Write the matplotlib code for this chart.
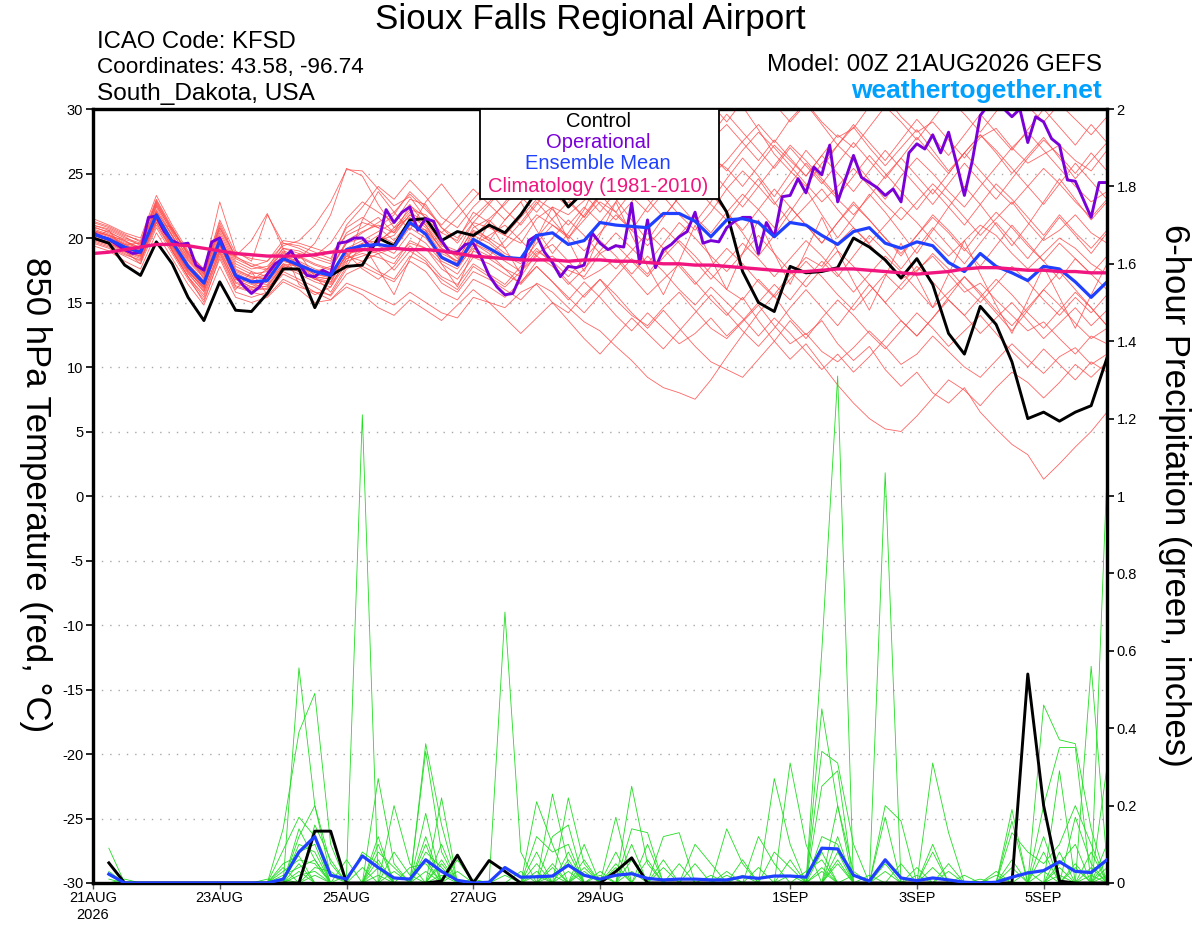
import numpy as np
import matplotlib
matplotlib.use("Agg")
import matplotlib.pyplot as plt
from matplotlib.patches import Rectangle

plt.rcParams['font.family'] = ['Liberation Sans', 'DejaVu Sans']

# ---------------- DATA ----------------
date_labels = ["21AUG\n2026", "23AUG", "25AUG", "27AUG", "29AUG", "1SEP", "3SEP", "5SEP"]
date_hours = [0, 48, 96, 144, 192, 264, 312, 360]

control_temp = [
    20.0, 19.6, 17.9, 17.1, 19.7, 18.0, 15.4, 13.6, 16.6, 14.4, 14.3, 15.7, 17.6,
    17.6, 14.6, 17.1, 17.8, 17.9, 20.0, 19.4, 21.4, 21.5, 19.8, 20.5, 20.2, 21.0,
    20.4, 21.8, 23.6, 24.2, 22.4, 23.6, 24.5, 25.0, 24.8, 25.5, 25.0, 24.5, 24.8,
    24.0, 22.0, 17.4, 15.0, 14.3, 17.8, 17.3, 17.4, 17.7, 20.0, 19.3, 18.3, 16.9,
    18.4, 16.4, 12.6, 11.0, 14.7, 13.3, 10.4, 6.0, 6.5, 5.8, 6.5, 7.0, 10.7]

mean_temp = [
    20.3, 19.9, 19.3, 18.9, 21.8, 19.7, 17.8, 16.5, 19.8, 17.1, 16.6, 16.7, 18.4,
    17.9, 17.4, 17.1, 19.1, 19.4, 19.5, 19.3, 21.2, 20.3, 18.5, 17.9, 19.9, 19.2,
    18.5, 18.4, 20.2, 20.4, 19.5, 19.8, 21.2, 21.0, 20.9, 20.8, 21.9, 21.9, 21.3,
    20.1, 21.4, 21.5, 21.2, 20.1, 21.2, 21.0, 20.2, 19.5, 20.5, 20.8, 19.6, 19.2,
    19.7, 19.4, 18.1, 17.4, 18.8, 17.8, 17.3, 16.7, 17.8, 17.6, 16.6, 15.4, 16.6]

clim_temp = [
    18.8, 18.9, 19.1, 19.3, 19.5, 19.5, 19.4, 19.2, 19.0, 18.8, 18.7, 18.6, 18.6,
    18.6, 18.7, 18.9, 19.0, 19.1, 19.1, 19.2, 19.1, 19.1, 19.0, 18.8, 18.6, 18.5,
    18.4, 18.3, 18.3, 18.3, 18.2, 18.3, 18.3, 18.2, 18.2, 18.1, 18.0, 18.0, 17.9,
    17.9, 17.8, 17.7, 17.6, 17.5, 17.4, 17.4, 17.5, 17.6, 17.6, 17.5, 17.4, 17.3,
    17.2, 17.3, 17.4, 17.6, 17.7, 17.7, 17.6, 17.5, 17.5, 17.4, 17.4, 17.3, 17.3]

# operational run, 3-hourly
oper_temp = [
    20.4, 20.1, 19.9, 19.5, 19.1, 18.8, 18.9, 21.6,
    21.7, 20.5, 19.8, 19.5, 19.6, 17.9, 17.5, 19.7,
    20.0, 18.5, 17.1, 16.3, 15.7, 16.2, 17.2, 18.0,
    18.4, 19.0, 18.0, 17.1, 17.0, 17.5, 17.2, 19.6,
    19.7, 20.0, 20.0, 19.3, 19.6, 22.2, 21.2, 22.0,
    22.4, 20.6, 21.5, 21.3, 19.8, 18.9, 18.9, 19.5,
    19.6, 18.5, 17.1, 16.2, 15.6, 15.7, 17.1, 19.8,
    20.2, 18.9, 18.1, 17.0, 17.8, 17.7, 17.9, 20.4,
    19.6, 19.1, 19.4, 19.3, 22.7, 18.0, 21.4, 17.7,
    19.1, 19.5, 20.1, 20.5, 22.0, 19.6, 19.8, 19.7,
    20.8, 21.3, 21.6, 21.6, 18.8, 21.2, 20.1, 23.2,
    23.3, 24.6, 23.5, 25.5, 24.9, 27.2, 22.8, 24.6,
    26.4, 24.7, 24.3, 23.9, 23.3, 23.8, 22.8, 26.6,
    27.3, 26.9, 28.0, 26.6, 28.2, 25.8, 23.3, 26.0,
    29.5, 30.3, 30.6, 30.0, 29.4, 30.0, 27.4, 29.4,
    29.0, 27.7, 27.2, 24.5, 24.4, 23.0, 21.6, 24.3,
    24.3]

# ensemble members 850 hPa temperature
mem_r01 = [20.8, 20.5, 19.8, 19.2, 22.6, 20.4, 18.5, 17.2, 20.6, 18.0, 17.4, 17.0, 18.8,
           18.5, 17.9, 17.5, 19.8, 20.5, 21.0, 20.4, 22.5, 21.6, 19.5, 19.0, 21.2, 20.8,
           20.2, 19.6, 21.5, 22.4, 21.8, 22.9, 24.5, 25.1, 24.0, 25.8, 27.2, 26.5, 25.4,
           24.8, 26.0, 27.5, 28.8, 27.4, 29.2, 30.5, 29.0, 27.8, 28.5, 30.2, 31.0, 29.4,
           28.2, 29.0, 27.6, 26.2, 27.8, 28.5, 27.0, 25.8, 26.5, 27.2, 26.0, 25.2, 26.8]
mem_r02 = [20.1, 19.7, 19.0, 18.5, 21.4, 19.2, 17.3, 15.8, 19.2, 16.5, 16.0, 16.3, 17.8,
           17.2, 16.6, 16.2, 18.4, 18.8, 18.5, 18.0, 19.8, 19.2, 17.6, 16.8, 18.5, 18.0,
           17.2, 16.5, 18.2, 18.6, 17.5, 17.0, 18.8, 19.5, 18.2, 17.0, 18.5, 19.8, 18.6,
           17.2, 16.0, 15.2, 16.8, 15.5, 13.8, 12.5, 13.6, 11.8, 10.5, 11.6, 9.8, 8.5,
           9.6, 8.0, 7.2, 8.4, 6.5, 5.2, 4.0, 3.2, 1.3, 2.5, 3.8, 5.0, 6.5]
mem_r03 = [20.6, 20.2, 19.6, 19.2, 22.2, 20.1, 18.2, 16.9, 20.2, 17.6, 17.0, 16.8, 18.6,
           18.1, 17.4, 17.0, 19.0, 19.2, 18.8, 17.5, 19.0, 18.2, 16.5, 15.8, 17.4, 16.8,
           16.0, 15.2, 16.5, 15.8, 14.6, 13.5, 12.8, 11.6, 10.5, 9.2, 8.4, 8.0, 7.5,
           9.0, 10.8, 12.5, 14.2, 15.6, 17.2, 18.5, 17.8, 19.6, 20.8, 19.5, 18.2, 16.8,
           17.5, 18.6, 17.2, 15.8, 16.5, 15.2, 14.0, 12.8, 13.5, 12.2, 11.0, 12.4, 11.8]
mem_r04 = [21.2, 20.8, 20.2, 19.8, 23.0, 20.8, 18.6, 17.2, 21.0, 18.4, 17.8, 18.2, 19.4,
           19.8, 21.0, 22.8, 25.3, 25.2, 23.8, 22.5, 23.2, 21.5, 20.4, 19.8, 22.0, 21.2,
           22.8, 24.2, 23.5, 25.0, 26.4, 25.2, 27.0, 28.2, 26.8, 25.0, 24.2, 26.0, 27.8,
           29.5, 31.0, 30.2, 28.4, 26.5, 25.2, 24.0, 25.8, 27.2, 26.0, 24.5, 23.0, 24.8,
           26.2, 25.0, 23.6, 22.4, 24.0, 25.5, 27.0, 28.2, 26.8, 25.4, 24.0, 22.8, 23.6]
mem_r05 = [19.8, 19.4, 18.8, 18.2, 21.0, 19.0, 17.0, 15.4, 18.8, 16.2, 15.8, 15.5, 16.8,
           16.2, 15.8, 15.2, 16.5, 16.0, 15.4, 14.8, 15.8, 15.0, 14.2, 13.8, 15.4, 15.0,
           14.6, 15.8, 16.4, 15.0, 14.2, 15.6, 16.8, 15.2, 14.0, 13.2, 14.6, 15.8, 14.4,
           13.0, 12.2, 13.5, 14.8, 13.2, 11.8, 12.6, 11.2, 10.4, 11.5, 12.8, 11.6, 10.2,
           11.0, 12.4, 11.2, 10.0, 9.2, 10.5, 11.8, 10.6, 9.5, 10.8, 11.5, 10.2, 11.0]
mem_r06 = [20.4, 20.0, 19.4, 19.0, 21.8, 19.6, 17.6, 16.4, 19.6, 17.0, 16.8, 17.2, 18.4,
           17.6, 17.0, 16.8, 19.2, 19.8, 20.5, 21.2, 22.6, 21.0, 19.0, 18.2, 20.5, 19.8,
           18.8, 18.2, 20.0, 21.5, 22.8, 21.6, 23.4, 24.8, 23.2, 22.0, 23.5, 25.2, 24.0,
           22.6, 21.4, 23.0, 24.6, 22.8, 21.2, 22.5, 23.8, 22.2, 20.8, 19.6, 21.0, 22.4,
           21.2, 19.8, 18.6, 19.8, 21.0, 20.2, 18.8, 17.6, 18.8, 20.0, 19.2, 18.0, 17.2]
mem_r07 = [20.2, 19.9, 19.2, 18.8, 21.6, 19.5, 17.5, 16.0, 19.8, 17.2, 16.5, 16.4, 18.0,
           17.8, 17.2, 17.0, 18.6, 19.4, 20.2, 19.6, 21.0, 20.6, 19.2, 18.6, 20.8, 21.5,
           22.6, 24.0, 25.5, 24.2, 26.0, 27.4, 29.0, 30.5, 29.2, 27.8, 28.6, 29.8, 28.0,
           26.4, 25.2, 26.8, 28.2, 27.0, 25.6, 24.2, 22.8, 24.0, 25.4, 24.0, 22.6, 21.4,
           22.8, 24.2, 23.0, 21.6, 20.2, 21.5, 22.8, 21.2, 19.8, 20.6, 21.8, 20.4, 19.6]
mem_r08 = [20.0, 19.6, 19.0, 18.6, 21.4, 19.4, 17.6, 16.2, 19.4, 16.8, 16.2, 16.0, 17.8,
           17.4, 16.8, 16.4, 18.2, 18.6, 19.0, 18.4, 19.6, 19.2, 18.0, 17.2, 19.0, 18.4,
           17.6, 17.0, 18.8, 19.5, 18.2, 16.8, 17.5, 18.4, 17.0, 15.6, 16.8, 18.0, 16.6,
           15.2, 14.0, 15.4, 13.6, 12.0, 10.6, 11.8, 10.2, 8.6, 7.2, 6.0, 5.2, 5.0,
           6.2, 7.6, 9.0, 8.2, 7.0, 8.4, 9.6, 8.8, 7.6, 8.8, 10.2, 9.2, 10.4]
mem_r09 = [21.0, 20.6, 20.0, 19.6, 22.8, 20.6, 18.8, 17.6, 20.8, 18.6, 17.8, 17.5, 19.2,
           19.0, 18.4, 18.0, 20.4, 21.2, 20.8, 21.8, 23.6, 22.4, 20.8, 20.0, 21.6, 22.8,
           24.0, 23.2, 22.0, 23.5, 22.4, 24.0, 22.6, 21.4, 22.8, 24.6, 23.2, 21.8, 20.6,
           22.0, 23.8, 25.2, 24.0, 22.6, 24.2, 25.8, 24.4, 23.0, 21.8, 23.2, 24.8, 26.2,
           24.8, 23.4, 25.0, 26.6, 25.2, 23.8, 22.6, 24.0, 25.4, 24.2, 22.8, 21.6, 23.0]
mem_r10 = [19.6, 19.2, 18.6, 18.0, 20.8, 18.8, 16.8, 15.2, 18.4, 15.8, 15.4, 15.8, 17.2,
           16.6, 15.8, 15.6, 17.6, 18.2, 17.4, 16.8, 18.6, 18.0, 16.8, 16.0, 17.8, 17.0,
           16.2, 17.4, 18.6, 17.8, 16.4, 17.6, 19.0, 20.4, 19.2, 18.0, 19.6, 21.2, 20.0,
           18.6, 17.4, 18.8, 20.2, 18.8, 17.4, 16.2, 17.6, 19.0, 17.8, 16.4, 15.0, 16.4,
           17.8, 16.6, 15.2, 14.0, 15.4, 16.8, 15.6, 14.2, 13.0, 14.4, 15.8, 14.6, 13.2]
mem_r11 = [20.5, 20.1, 19.5, 19.1, 22.0, 19.9, 18.0, 16.7, 20.0, 17.4, 16.9, 17.0, 18.6,
           18.2, 17.6, 17.2, 19.0, 19.6, 19.8, 20.2, 21.8, 21.0, 19.4, 18.8, 20.6, 20.0,
           19.2, 20.4, 21.8, 21.0, 20.0, 21.4, 22.8, 22.0, 23.6, 25.0, 24.2, 23.0, 24.6,
           26.2, 25.4, 24.0, 25.6, 27.2, 26.0, 24.8, 26.4, 28.0, 27.0, 28.6, 30.2, 29.0,
           27.6, 29.2, 30.8, 29.6, 28.2, 29.8, 31.0, 30.2, 29.0, 30.4, 29.2, 28.0, 29.4]
mem_r12 = [19.9, 19.5, 18.9, 18.4, 21.2, 19.1, 17.2, 15.9, 19.0, 16.6, 16.1, 16.6, 18.0,
           17.4, 16.9, 16.6, 18.8, 19.0, 19.8, 20.6, 22.0, 21.2, 19.6, 18.4, 20.2, 19.6,
           18.6, 18.0, 19.6, 21.0, 20.2, 19.0, 20.4, 21.8, 20.6, 19.4, 20.8, 19.6, 18.2,
           16.8, 18.2, 19.6, 18.4, 17.0, 18.4, 19.8, 18.6, 17.2, 15.8, 17.2, 18.6, 17.4,
           16.0, 14.6, 15.8, 17.0, 15.8, 14.4, 13.2, 14.6, 16.0, 14.8, 13.4, 12.2, 13.0]
mem_r13 = [20.3, 19.8, 19.1, 18.7, 21.5, 19.3, 17.4, 16.1, 19.5, 16.9, 16.4, 16.2, 17.9,
           17.5, 16.8, 16.5, 18.8, 17.6, 16.8, 17.8, 19.4, 18.4, 17.0, 16.4, 18.0, 17.2,
           16.4, 17.8, 19.2, 18.0, 16.6, 15.4, 16.8, 15.6, 14.2, 13.0, 14.4, 13.0, 11.6,
           10.4, 9.8, 9.2, 10.6, 12.0, 13.6, 12.2, 13.8, 15.2, 14.0, 12.6, 11.4, 12.8,
           14.2, 13.0, 11.6, 12.8, 14.0, 12.6, 11.2, 10.0, 11.4, 10.2, 9.0, 10.4, 9.6]
mem_r14 = [21.5, 21.0, 20.4, 20.0, 23.3, 21.0, 19.0, 17.5, 22.8, 19.0, 18.2, 21.8, 19.6,
           19.2, 18.6, 18.2, 21.0, 22.4, 24.0, 23.0, 24.5, 23.2, 21.6, 20.8, 22.4, 23.6,
           22.2, 21.0, 22.6, 24.2, 23.0, 21.6, 23.2, 24.6, 26.0, 24.8, 23.4, 25.0, 26.6,
           25.2, 23.8, 22.4, 24.0, 25.6, 27.2, 26.0, 24.6, 23.2, 24.8, 26.4, 25.0, 23.6,
           22.2, 23.8, 22.4, 21.0, 22.6, 24.2, 23.0, 21.6, 20.2, 21.8, 20.4, 19.2, 20.6]
mem_r15 = [20.0, 19.6, 19.0, 18.6, 21.4, 19.4, 17.4, 16.2, 19.4, 16.8, 16.2, 16.9, 18.2,
           17.8, 17.0, 16.8, 18.4, 19.0, 19.6, 20.8, 22.2, 21.8, 20.4, 21.6, 23.0, 24.4,
           25.6, 26.8, 25.4, 27.0, 28.4, 27.2, 28.8, 30.4, 31.2, 30.0, 31.6, 30.8, 29.4,
           28.0, 29.6, 28.2, 26.8, 25.4, 27.0, 25.6, 24.2, 25.8, 27.4, 26.0, 24.6, 26.2,
           27.8, 26.4, 25.0, 26.6, 28.0, 26.8, 25.4, 24.0, 22.6, 24.2, 25.8, 24.4, 23.0]
mem_r16 = [20.7, 20.3, 19.7, 19.3, 22.4, 20.2, 18.3, 17.0, 20.4, 17.8, 17.2, 17.4, 19.0,
           18.6, 18.0, 17.6, 19.6, 20.0, 19.4, 18.8, 20.4, 19.6, 18.2, 17.6, 19.4, 20.2,
           21.0, 19.8, 18.6, 20.0, 21.4, 20.2, 18.8, 17.6, 19.0, 20.4, 19.2, 17.8, 16.4,
           17.8, 19.2, 18.0, 16.6, 15.4, 16.8, 18.2, 17.0, 15.6, 14.4, 15.8, 17.2, 16.0,
           17.4, 18.8, 17.6, 16.2, 15.0, 16.4, 17.8, 16.6, 15.2, 14.0, 15.4, 14.2, 15.6]
mem_r17 = [19.7, 19.3, 18.7, 18.3, 21.2, 19.0, 17.0, 15.6, 18.9, 16.3, 15.9, 16.1, 17.4,
           16.8, 16.2, 15.5, 17.2, 17.8, 17.2, 16.6, 18.2, 17.4, 15.8, 15.2, 16.8, 16.2,
           15.4, 16.6, 17.8, 16.6, 15.4, 14.2, 15.6, 17.0, 18.4, 17.2, 18.8, 20.2, 21.6,
           20.4, 22.0, 23.4, 22.2, 20.8, 22.4, 21.0, 19.6, 21.2, 22.6, 21.4, 20.0, 18.8,
           20.2, 21.6, 20.4, 19.0, 20.6, 22.0, 20.8, 19.4, 18.2, 19.6, 18.4, 17.2, 18.6]
mem_r18 = [21.0, 20.7, 20.1, 19.4, 22.5, 20.5, 18.4, 17.1, 20.8, 18.2, 17.6, 17.8, 19.2,
           18.8, 18.6, 19.6, 21.5, 22.8, 22.0, 21.2, 23.0, 22.6, 20.8, 19.6, 21.2, 22.6,
           21.4, 22.8, 24.2, 23.0, 24.6, 23.4, 22.0, 23.6, 25.2, 27.0, 25.8, 24.4, 26.0,
           27.6, 28.8, 27.4, 26.0, 27.6, 26.2, 24.8, 26.4, 25.0, 23.6, 25.2, 26.8, 25.4,
           24.0, 22.6, 24.2, 25.8, 24.4, 23.0, 24.6, 26.2, 27.6, 26.4, 25.0, 26.6, 25.2]
mem_r19 = [20.2, 19.8, 19.2, 18.8, 21.6, 19.6, 17.7, 16.3, 19.6, 17.0, 16.6, 16.6, 18.3,
           17.8, 17.2, 16.9, 18.6, 18.2, 18.8, 19.2, 20.8, 20.0, 18.4, 17.8, 19.6, 19.0,
           18.2, 17.4, 19.0, 18.2, 17.0, 18.4, 19.8, 18.6, 17.2, 18.6, 17.4, 16.0, 14.8,
           16.2, 15.0, 13.8, 12.4, 13.8, 12.6, 11.2, 9.8, 11.0, 9.6, 10.8, 12.2, 13.6,
           12.4, 13.8, 15.2, 14.0, 12.6, 13.8, 15.0, 13.6, 12.2, 13.4, 14.6, 13.2, 14.4]
mem_r20 = [20.9, 20.4, 19.9, 19.5, 22.9, 20.7, 18.7, 17.3, 21.2, 18.5, 18.0, 17.6, 19.6,
           19.4, 18.9, 18.4, 20.8, 21.6, 20.8, 19.8, 21.4, 20.6, 18.8, 18.2, 20.0, 21.4,
           20.2, 21.6, 23.0, 22.2, 21.0, 22.4, 21.2, 22.8, 24.4, 23.0, 21.6, 23.2, 24.8,
           23.4, 22.0, 20.6, 22.2, 23.8, 22.4, 21.0, 19.6, 21.2, 22.8, 21.4, 20.0, 18.6,
           20.2, 21.8, 20.6, 19.2, 17.8, 19.4, 21.0, 19.6, 18.2, 16.8, 18.4, 17.2, 16.0]
mem_r21 = [20.6, 20.2, 19.8, 19.0, 21.2, 20.8, 18.8, 16.8, 19.0, 18.6, 19.8, 21.9, 19.2,
           16.4, 15.6, 16.2, 18.0, 21.4, 23.6, 22.0, 20.6, 22.8, 24.2, 22.6, 21.0, 19.8,
           21.4, 22.8, 20.6, 18.8, 20.4, 22.2, 24.8, 23.0, 21.4, 19.8, 21.6, 23.2, 25.0,
           23.6, 22.0, 20.4, 18.6, 20.2, 22.0, 23.8, 21.8, 20.0, 21.6, 23.4, 22.0, 20.4,
           18.8, 20.6, 22.4, 24.0, 22.6, 21.0, 19.4, 21.0, 22.8, 24.6, 23.0, 21.4, 22.8]
mem_r22 = [19.4, 19.0, 18.2, 17.6, 20.4, 18.4, 16.4, 14.8, 17.8, 15.4, 15.0, 15.4, 16.6,
           16.0, 15.0, 15.2, 16.2, 15.6, 14.6, 14.0, 15.2, 14.4, 13.6, 14.8, 16.0, 15.0,
           13.8, 12.6, 13.8, 15.0, 13.6, 12.2, 11.0, 12.4, 13.8, 12.6, 11.4, 12.8, 14.2,
           15.6, 14.2, 12.8, 11.6, 13.0, 14.6, 16.0, 14.6, 13.2, 14.8, 16.4, 15.0, 13.6,
           12.4, 13.8, 15.4, 17.0, 15.6, 14.2, 12.8, 14.4, 16.0, 17.4, 16.0, 14.6, 13.2]
mem_r23 = [20.3, 20.0, 19.5, 19.6, 22.1, 20.2, 18.0, 16.6, 19.7, 17.3, 16.7, 17.6, 18.9,
           18.4, 19.6, 21.8, 25.4, 24.8, 22.6, 20.8, 21.6, 20.2, 18.6, 17.8, 19.2, 18.6,
           19.8, 21.2, 22.8, 21.4, 20.0, 21.8, 23.4, 22.0, 20.6, 22.4, 24.0, 22.6, 21.2,
           22.8, 24.6, 26.2, 24.8, 23.2, 25.0, 26.8, 25.4, 27.2, 28.8, 27.4, 26.0, 27.6,
           29.2, 27.8, 26.4, 28.0, 29.6, 28.2, 26.8, 28.4, 30.0, 28.6, 27.2, 28.8, 27.4]
mem_r24 = [20.0, 20.6, 19.0, 18.0, 22.0, 19.0, 17.0, 15.0, 18.6, 16.0, 17.4, 15.6, 17.4,
           18.8, 17.0, 15.8, 17.8, 19.6, 17.6, 15.6, 18.4, 20.6, 18.0, 16.2, 19.0, 21.2,
           19.2, 17.2, 20.0, 22.4, 19.8, 17.4, 20.2, 22.8, 20.2, 17.8, 15.6, 18.2, 21.0,
           18.4, 16.0, 18.8, 21.4, 18.8, 16.4, 19.0, 21.6, 19.0, 16.6, 14.4, 17.0, 19.6,
           17.0, 14.6, 17.2, 19.8, 17.2, 14.8, 12.6, 15.2, 17.8, 15.4, 13.0, 15.6, 18.0]
mem_r25 = [21.3, 20.9, 20.3, 19.7, 22.7, 20.6, 18.9, 17.4, 21.4, 18.8, 18.4, 18.2, 19.8,
           19.6, 19.2, 18.8, 20.2, 20.8, 21.6, 20.4, 21.8, 20.8, 19.2, 18.0, 19.6, 18.8,
           17.6, 16.4, 17.8, 16.6, 15.2, 16.6, 15.4, 14.0, 12.8, 14.2, 13.0, 11.8, 12.6,
           13.8, 12.4, 13.6, 15.0, 16.4, 15.2, 16.8, 18.2, 17.0, 18.6, 20.2, 19.0, 17.6,
           19.2, 20.8, 19.4, 18.0, 19.6, 21.2, 19.8, 18.4, 20.0, 21.6, 20.2, 18.8, 20.4]
mem_r26 = [20.5, 20.2, 19.5, 18.9, 21.9, 19.8, 17.9, 16.6, 20.1, 17.5, 17.0, 16.8, 18.5,
           18.0, 17.4, 17.8, 19.6, 20.4, 21.2, 22.0, 23.4, 22.2, 21.0, 22.4, 23.8, 22.6,
           24.0, 25.4, 24.2, 25.8, 27.2, 26.0, 27.6, 29.0, 27.8, 29.4, 31.0, 30.2, 31.4,
           30.4, 29.0, 30.6, 31.8, 30.4, 29.0, 30.4, 28.8, 27.2, 28.6, 27.0, 25.6, 27.0,
           28.4, 26.8, 25.2, 26.6, 28.0, 26.6, 25.0, 26.4, 27.8, 26.2, 24.6, 26.0, 27.4]

members_temp = [mem_r01, mem_r02, mem_r03, mem_r04, mem_r05, mem_r06, mem_r07, mem_r08,
                mem_r09, mem_r10, mem_r11, mem_r12, mem_r13, mem_r14, mem_r15, mem_r16,
                mem_r17, mem_r18, mem_r19, mem_r20, mem_r21, mem_r22, mem_r23, mem_r24,
                mem_r25, mem_r26]

# 6-hour precipitation (hours 6..384)
control_prcp = [.052, 0, 0, 0, 0, 0, 0, 0,
                0, 0, 0, 0, 0, .134, .134, 0,
                0, 0, 0, 0, 0, .005, .072, 0,
                .058, .03, 0, 0, 0, 0, 0, 0,
                .03, .065, 0, 0, 0, 0, 0, 0,
                0, 0, 0, 0, 0, 0, 0, 0,
                0, 0, 0, 0, 0, 0, 0, 0,
                0, 0, .54, .20, .005, 0, 0, 0]
mean_prcp = [.023, 0, 0, 0, 0, 0, 0, 0,
             0, 0, 0, .01, .08, .12, .02, .01,
             .07, .04, .013, .01, .06, .03, .007, 0,
             .002, .04, .015, .016, .018, .046, .02, .01,
             .02, .024, .012, .008, .01, .01, .008, .008,
             .016, .012, .018, .018, .015, .09, .088, .02,
             .005, .06, .013, .006, .013, .008, .002, 0,
             .002, .015, .026, .032, .055, .03, .027, .06]

mem_g01 = [.09, 0, 0, 0, 0, 0, 0, 0,  0, 0, 0, 0, .556, .20, .05, 0,
           0, 0, 0, 0, .10, 0, 0, 0,  0, 0, 0, 0, .23, .05, 0, 0,
           0, .25, .05, 0, 0, 0, 0, 0,  0, 0, 0, 0, 0, .45, .20, 0,
           0, 0, 0, 0, 0, 0, 0, 0,  0, 0, 0, .46, .37, .36, .14, 0]
mem_g02 = [.05, 0, 0, 0, 0, 0, 0, 0,  0, 0, 0, .14, .39, .49, .10, 0,
           0, .27, .05, 0, 0, .22, 0, 0,  0, 0, 0, .21, .10, 0, 0, 0,
           .17, 0, 0, 0, 0, 0, 0, 0,  0, 0, 0, .31, .10, 0, 0, 0,
           0, 0, 0, 0, .31, .13, 0, 0,  0, 0, 0, 0, 0, 0, .56, .05]
mem_g03 = [.03, 0, 0, 0, 0, 0, 0, 0,  0, 0, 0, .085, .17, .12, 0, .02,
           1.21, 0, 0, 0, .36, .15, 0, 0,  0, 0, 0, 0, 0, 0, 0, 0,
           0, 0, 0, .12, .13, 0, 0, 0,  0, 0, .27, .10, 0, 0, 0, 0,
           0, 0, 0, 0, 0, 0, 0, 0,  0, .19, 0, 0, .29, 0, 0, .30]
mem_g04 = [0, 0, 0, 0, 0, 0, 0, 0,  0, 0, 0, 0, .08, .10, 0, 0,
           0, 0, .20, .05, 0, 0, 0, 0,  0, .70, .08, 0, 0, 0, .10, 0,
           0, .14, .13, 0, 0, 0, 0, 0,  0, 0, 0, 0, 0, .34, .31, .10,
           0, 0, 0, 0, 0, 0, 0, 0,  0, .16, 0, .20, .35, .35, 0, 0]
mem_g05 = [0, 0, 0, 0, 0, 0, 0, 0,  0, 0, 0, .03, .06, .05, 0, 0,
           0, .10, 0, 0, .34, .08, 0, 0,  0, 0, 0, .12, .08, .10, 0, 0,
           0, 0, 0, 0, 0, .10, .05, 0,  0, 0, 0, 0, 0, .60, 1.31, 0,
           0, .20, .16, 0, 0, 0, 0, 0,  0, 0, 0, 0, 0, 0, 0, 1.06]
mem_g06 = [.02, 0, 0, 0, 0, 0, 0, 0,  0, 0, 0, 0, .02, .03, 0, 0,
           .08, .05, 0, 0, .18, 0, .06, 0,  0, 0, 0, 0, .12, .15, 0, 0,
           0, 0, .10, 0, 0, 0, 0, .14,  .05, 0, 0, 0, 0, .25, .29, 0,
           0, 1.06, 0, 0, 0, 0, 0, 0,  0, 0, 0, 0, 0, .17, .05, 0]
mem_g07 = [0, 0, 0, 0, 0, 0, 0, 0,  0, 0, 0, .02, .04, .06, 0, 0,
           0, .08, .04, 0, 0, .10, 0, 0,  0, 0, 0, .05, 0, .22, .05, 0,
           .08, 0, 0, 0, 0, 0, 0, 0,  0, .12, .05, 0, 0, 0, .20, .03,
           0, 0, 0, 0, 0, .05, 0, 0,  0, .13, .08, .05, .10, .20, .10, 0]
mem_g08 = [0, 0, 0, 0, 0, 0, 0, 0,  0, 0, 0, 0, .10, .08, 0, 0,
           0, 0, 0, .04, .05, 0, 0, 0,  0, .02, 0, 0, .05, 0, 0, .03,
           0, .06, 0, .04, 0, 0, 0, 0,  0, 0, 0, .06, 0, .12, .10, 0,
           0, .17, 0, 0, .08, 0, 0, 0,  0, 0, 0, 0, .05, .10, 0, .02]
mem_g09 = [0, 0, 0, 0, 0, 0, 0, 0,  0, 0, 0, .01, 0, .04, .03, 0,
           0, .04, 0, 0, .08, .04, 0, 0,  0, 0, 0, .08, 0, 0, .06, 0,
           0, .10, 0, 0, .05, 0, 0, 0,  .06, 0, 0, 0, 0, 0, .06, 0,
           0, 0, 0, .04, 0, 0, .02, 0,  0, 0, 0, .08, 0, 0, .02, 0]
mem_g10 = [0, 0, 0, 0, 0, 0, 0, 0,  0, 0, .01, 0, .12, .20, .02, 0,
           0, 0, .03, 0, 0, .06, 0, 0,  0, 0, .03, 0, 0, .06, 0, 0,
           .04, 0, 0, 0, 0, .05, 0, .03,  0, 0, 0, 0, 0, .08, 0, 0,
           .02, 0, 0, 0, 0, 0, 0, 0,  .02, 0, 0, 0, 0, .05, 0, .10]
mem_g11 = [0, 0, 0, 0, 0, 0, 0, 0,  0, 0, 0, 0, .05, 0, 0, .06,
           0, .12, 0, 0, .03, 0, 0, .01,  0, 0, 0, 0, .04, 0, 0, 0,
           0, 0, .06, 0, 0, 0, 0, 0,  0, 0, .08, .04, 0, 0, .12, 0,
           0, 0, .05, 0, .10, 0, 0, 0,  0, 0, .03, 0, .08, 0, 0, 0]
mem_g12 = [.01, 0, 0, 0, 0, 0, 0, 0,  0, 0, 0, .05, .07, 0, 0, 0,
           .04, 0, 0, 0, 0, .05, 0, 0,  0, 0, 0, 0, 0, .03, 0, .02,
           0, 0, 0, 0, 0, 0, .02, 0,  0, 0, 0, 0, .03, .06, 0, .02,
           0, 0, 0, 0, 0, .03, 0, 0,  0, .04, 0, .12, 0, 0, .08, 0]
mem_g13 = [0, 0, 0, 0, 0, 0, 0, 0,  0, 0, 0, 0, 0, .15, .06, 0,
           0, .06, 0, 0, .12, 0, 0, 0,  0, 0, 0, .03, 0, 0, .04, 0,
           0, 0, 0, .06, 0, 0, 0, 0,  0, .04, 0, 0, 0, 0, .08, 0,
           0, .05, 0, 0, 0, 0, 0, .01,  0, 0, 0, 0, .04, 0, 0, .04]
mem_g14 = [0, 0, 0, 0, 0, 0, 0, 0,  0, 0, 0, 0, .03, 0, 0, 0,
           0, 0, .08, .02, 0, 0, .03, 0,  0, 0, 0, 0, 0, .08, 0, 0,
           0, .03, 0, 0, 0, 0, 0, 0,  .02, 0, 0, 0, 0, .04, 0, 0,
           0, 0, 0, .02, 0, 0, 0, 0,  .03, 0, 0, .03, 0, .04, 0, 0]
mem_g15 = [0, .01, 0, 0, 0, 0, 0, 0,  0, 0, 0, 0, .14, .06, 0, 0,
           0, 0, 0, 0, .06, 0, 0, 0,  0, 0, 0, 0, .02, 0, 0, 0,
           .05, 0, 0, 0, 0, 0, 0, 0,  0, 0, 0, .02, 0, 0, .05, 0,
           0, 0, 0, 0, .04, 0, 0, 0,  0, .06, 0, 0, 0, 0, .04, 0]
mem_g16 = [0, 0, 0, 0, 0, 0, 0, 0,  0, 0, 0, .04, 0, .02, 0, 0,
           0, .02, 0, 0, 0, .02, 0, 0,  0, 0, 0, .02, 0, 0, .03, 0,
           0, 0, 0, 0, 0, 0, 0, .02,  0, 0, 0, 0, 0, .03, 0, 0,
           0, .03, 0, 0, 0, 0, 0, 0,  0, 0, 0, 0, .02, 0, 0, .06]

members_prcp = [mem_g01, mem_g02, mem_g03, mem_g04, mem_g05, mem_g06, mem_g07, mem_g08,
                mem_g09, mem_g10, mem_g11, mem_g12, mem_g13, mem_g14, mem_g15, mem_g16]

for m in members_temp + [control_temp, mean_temp, clim_temp]:
    assert len(m) == 65, len(m)
for m in members_prcp + [control_prcp, mean_prcp]:
    assert len(m) == 64, len(m)
assert len(oper_temp) == 129

# ---------------- PLOT ----------------
hours6 = np.arange(65) * 6
hours3 = np.arange(129) * 3
hours_p = np.arange(1, 65) * 6

fig = plt.figure(figsize=(12, 9.27), dpi=100)
L, B, W, H = 93 / 1200, 1 - 883 / 927, 1014 / 1200, 774 / 927
ax = fig.add_axes([L, B, W, H])
ax.set_xlim(0, 384)
ax.set_ylim(-30, 30)

for v in range(-25, 30, 5):
    ax.axhline(v, color='#a8a8a8', lw=1.0, ls=(0, (1, 5)), zorder=0.5)

red = '#ff4a4a'
for m in members_temp:
    ax.plot(hours6, m, color=red, lw=0.6, alpha=0.85, zorder=1)

ax.plot(hours6, control_temp, color='black', lw=2.1, zorder=4)
ax.plot(hours3, oper_temp, color='#7a00d8', lw=2.1, zorder=4.2)
ax.plot(hours6, mean_temp, color='#2040ff', lw=2.3, zorder=4.4)
ax.plot(hours6, clim_temp, color='#f0157f', lw=2.4, zorder=4.6)

ax.set_yticks(range(-30, 31, 5))
ax.set_yticklabels([str(v) for v in range(-30, 31, 5)])
ax.set_xticks(date_hours)
ax.set_xticklabels(date_labels, linespacing=1.2)
ax.tick_params(axis='y', direction='out', length=5, width=1.2, labelsize=10.5, pad=2)
ax.tick_params(axis='x', direction='out', length=4, width=1.0, labelsize=10.5, pad=2,
               color='#555555')
for s in ax.spines.values():
    s.set_linewidth(2.3)

ax2 = ax.twinx()
ax2.set_ylim(0, 2)
ax2.set_xlim(0, 384)
green = '#22dd22'
for m in members_prcp:
    ax2.plot(hours_p, m, color=green, lw=0.6, zorder=1)
ax2.plot(hours_p, control_prcp, color='black', lw=2.1, zorder=4)
ax2.plot(hours_p, mean_prcp, color='#2040ff', lw=2.3, zorder=4.4)
rt = [0, 0.2, 0.4, 0.6, 0.8, 1.0, 1.2, 1.4, 1.6, 1.8, 2.0]
ax2.set_yticks(rt)
ax2.set_yticklabels(['0', '0.2', '0.4', '0.6', '0.8', '1', '1.2', '1.4', '1.6', '1.8', '2'])
ax2.tick_params(axis='y', direction='out', length=5, width=1.2, labelsize=10.5, pad=2)
for s in ax2.spines.values():
    s.set_linewidth(2.3)

# legend box
lx0 = (480 - 93) / 1014
lx1 = (719 - 93) / 1014
ly0 = (883 - 199) / 774
ax2.add_patch(Rectangle((lx0, ly0), lx1 - lx0, 1 - ly0, transform=ax2.transAxes,
                        facecolor='white', edgecolor='black', lw=1.3, zorder=20,
                        clip_on=False))
lxc = (598 - 93) / 1014
leg_items = [("Control", 'black', 121), ("Operational", '#7a00d8', 142),
             ("Ensemble Mean", '#2040ff', 163), ("Climatology (1981-2010)", '#f0157f', 186)]
for txt, col, ypx in leg_items:
    ax2.text(lxc, (883 - ypx) / 774, txt, color=col, fontsize=14.5, ha='center',
             va='center', transform=ax2.transAxes, zorder=21)

# axis labels
fig.text(35 / 1200, 1 - 495 / 927, "850 hPa Temperature (red, \u00b0C)", rotation=270,
         ha='center', va='center', fontsize=25)
fig.text(1175 / 1200, 1 - 495 / 927, "6-hour Precipitation (green, inches)", rotation=270,
         ha='center', va='center', fontsize=25)

# header
fig.text(590 / 1200, 1 - 20 / 927, "Sioux Falls Regional Airport", ha='center',
         va='center', fontsize=25.2)
fig.text(97 / 1200, 1 - 42 / 927, "ICAO Code: KFSD", ha='left', va='center', fontsize=17.2)
fig.text(97 / 1200, 1 - 68 / 927, "Coordinates: 43.58, -96.74", ha='left', va='center',
         fontsize=16.2)
fig.text(97 / 1200, 1 - 94 / 927, "South_Dakota, USA", ha='left', va='center', fontsize=17.6)
fig.text(1102 / 1200, 1 - 65 / 927, "Model: 00Z 21AUG2026 GEFS", ha='right', va='center',
         fontsize=17.5)
fig.text(1102 / 1200, 1 - 91 / 927, "weathertogether.net", ha='right', va='center',
         fontsize=19, fontweight='bold', color='#00a0ff')

fig.savefig("out.png", dpi=100)
